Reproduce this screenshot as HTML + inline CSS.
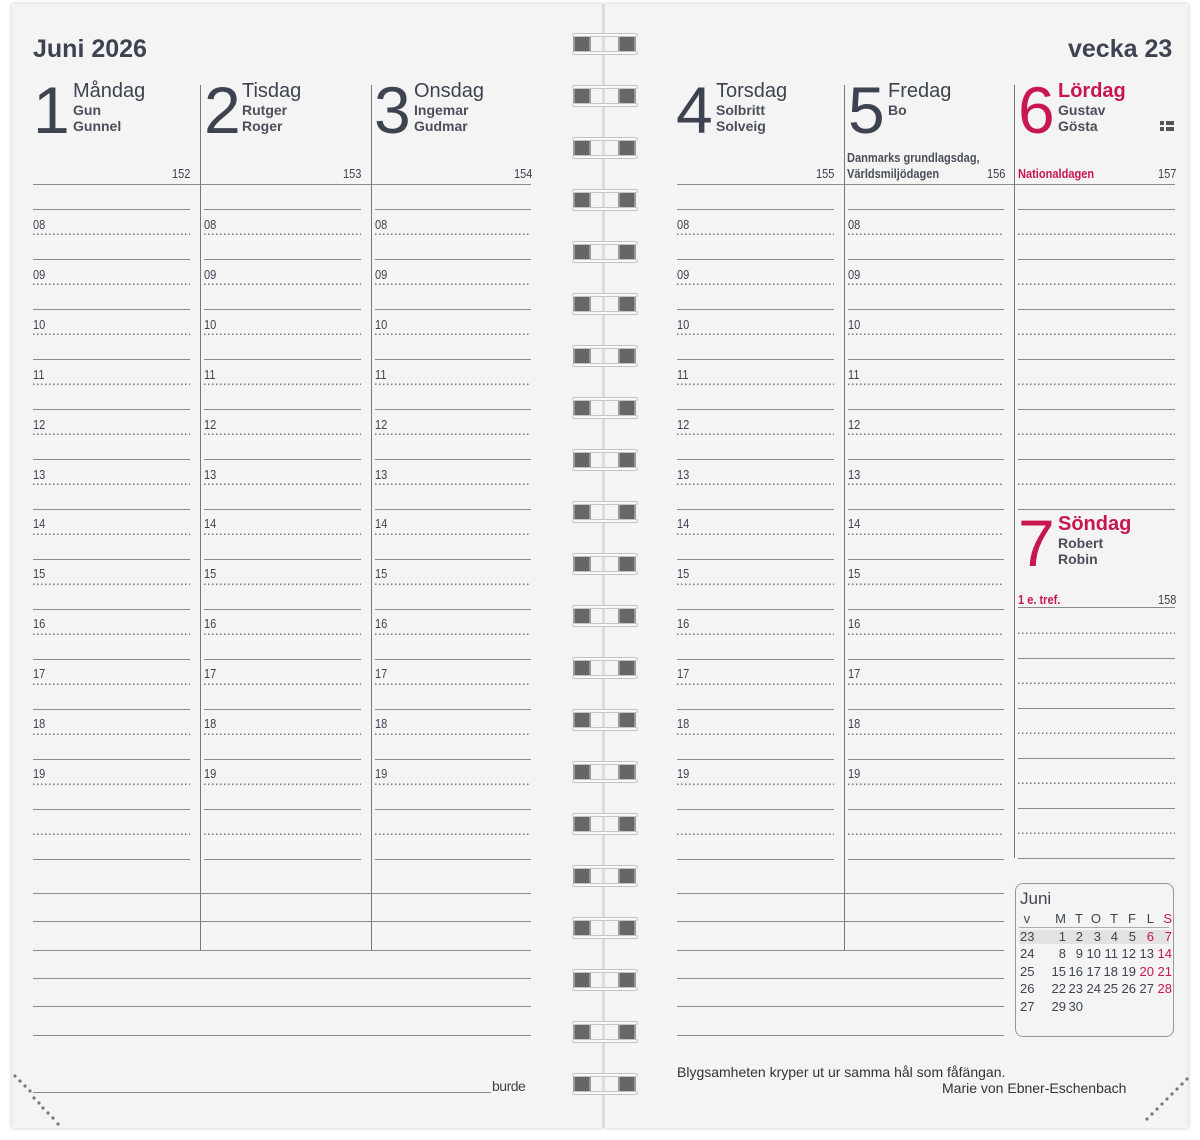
<!DOCTYPE html>
<html><head><meta charset="utf-8">
<style>
*{margin:0;padding:0;box-sizing:border-box}
body{width:1200px;height:1140px;background:#fff;position:relative;overflow:hidden;font-family:"Liberation Sans",sans-serif;color:#3d4350}
.pg{position:absolute;top:4px;height:1124px;background:#f4f4f4;box-shadow:0 0 4px rgba(0,0,0,.25)}
.a{position:absolute}
.sol{position:absolute;background:repeating-linear-gradient(to bottom,transparent 0 24px,#8a8a8a 24px 25px,transparent 25px 50px)}
.dot{position:absolute;background:repeating-linear-gradient(to right,#777 0 1.4px,transparent 1.4px 4px);-webkit-mask-image:repeating-linear-gradient(to bottom,transparent 0 48.6px,#000 48.6px 50px);mask-image:repeating-linear-gradient(to bottom,transparent 0 48.6px,#000 48.6px 50px)}
.hl{position:absolute;height:1px;background:#8a8a8a}
.vl{position:absolute;width:1px;background:#777}
.n{position:absolute;font-size:66px;line-height:66px;top:77px;letter-spacing:-2px}
.dn{position:absolute;font-size:20px;top:80px;line-height:22px}
.nm{position:absolute;font-size:14px;line-height:16px;font-weight:bold;color:#4a4f5a}
.cn{font-family:"Liberation Sans Narrow","Liberation Sans",sans-serif;font-size:13px;position:absolute;transform:scaleX(.85);transform-origin:left top;white-space:nowrap}
.r{transform-origin:right top}
.hr{position:absolute;font-family:"Liberation Sans Narrow","Liberation Sans",sans-serif;font-size:13px;color:#3d4350;transform:scaleX(.85);transform-origin:left top}
.red{color:#c8174f}
.ring{position:absolute;left:572px;width:66px;height:24px}
.ring .d{position:absolute;top:2px;width:18px;height:20px;background:#666;border:2px solid #999}
.ring .w{position:absolute;left:0;width:66px;height:4px;background:#fafafa;border:1px solid #c4c4c4;border-radius:2px}
.mc{position:absolute;font-size:13px;line-height:13px;text-align:right;width:20px}
</style></head><body>
<div class="pg" style="left:12px;width:590px"></div>
<div class="pg" style="left:605px;width:583px"></div>
<div class="a" style="left:602px;top:4px;width:3px;height:1124px;background:#ddd"></div>

<div class="a" style="left:33px;top:35px;font-size:25px;font-weight:bold">Juni 2026</div>
<div class="a" style="left:1068px;top:35px;font-size:25px;font-weight:bold">vecka 23</div>

<div class="n" style="left:33px">1</div><div class="dn" style="left:73px">Måndag</div>
<div class="nm" style="left:73px;top:102px">Gun<br>Gunnel</div>
<div class="n" style="left:204px">2</div><div class="dn" style="left:242px">Tisdag</div>
<div class="nm" style="left:242px;top:102px">Rutger<br>Roger</div>
<div class="n" style="left:374px">3</div><div class="dn" style="left:414px">Onsdag</div>
<div class="nm" style="left:414px;top:102px">Ingemar<br>Gudmar</div>
<div class="n" style="left:676px">4</div><div class="dn" style="left:716px">Torsdag</div>
<div class="nm" style="left:716px;top:102px">Solbritt<br>Solveig</div>
<div class="n" style="left:848px">5</div><div class="dn" style="left:888px">Fredag</div>
<div class="nm" style="left:888px;top:102px">Bo</div>
<div class="n red" style="left:1018px">6</div><div class="dn red" style="left:1058px;font-weight:bold">Lördag</div>
<div class="nm" style="left:1058px;top:102px">Gustav<br>Gösta</div>
<div class="a" style="left:1160px;top:121px;width:4px;height:4px;background:#555"></div>
<div class="a" style="left:1166px;top:121px;width:8px;height:4px;background:#555"></div>
<div class="a" style="left:1160px;top:127px;width:4px;height:4px;background:#555"></div>
<div class="a" style="left:1166px;top:127px;width:8px;height:4px;background:#555"></div>

<div class="cn" style="left:172px;top:166px">152</div>
<div class="cn" style="left:343px;top:166px">153</div>
<div class="cn" style="left:514px;top:166px">154</div>
<div class="cn" style="left:816px;top:166px">155</div>
<div class="cn" style="left:987px;top:166px">156</div>
<div class="cn" style="left:1158px;top:166px">157</div>
<div class="cn" style="left:847px;top:150px;line-height:16px;font-weight:bold;color:#4a4f5a">Danmarks grundlagsdag,<br>Världsmiljödagen</div>
<div class="cn red" style="left:1018px;top:166px;font-weight:bold">Nationaldagen</div>

<div class="hl" style="left:33px;top:184px;width:498px"></div>
<div class="hl" style="left:677px;top:184px;width:498px"></div>

<div class="vl" style="left:200px;top:85px;height:865px"></div>
<div class="vl" style="left:371px;top:85px;height:865px"></div>
<div class="vl" style="left:844px;top:85px;height:865px"></div>
<div class="vl" style="left:1014px;top:85px;height:773px"></div>

<div class="sol" style="left:33px;top:185px;width:157px;height:676px"></div>
<div class="sol" style="left:204px;top:185px;width:157px;height:676px"></div>
<div class="sol" style="left:375px;top:185px;width:156px;height:676px"></div>
<div class="sol" style="left:677px;top:185px;width:157px;height:676px"></div>
<div class="sol" style="left:848px;top:185px;width:156px;height:676px"></div>
<div class="dot" style="left:33px;top:185px;width:157px;height:651px"></div>
<div class="dot" style="left:204px;top:185px;width:157px;height:651px"></div>
<div class="dot" style="left:375px;top:185px;width:156px;height:651px"></div>
<div class="dot" style="left:677px;top:185px;width:157px;height:651px"></div>
<div class="dot" style="left:848px;top:185px;width:156px;height:651px"></div>

<div class="sol" style="left:1018px;top:185px;width:157px;height:326px"></div>
<div class="dot" style="left:1018px;top:185px;width:157px;height:301px"></div>
<div class="n red" style="left:1018px;top:510px">7</div>
<div class="dn red" style="left:1058px;top:513px;font-weight:bold">Söndag</div>
<div class="nm" style="left:1058px;top:535px">Robert<br>Robin</div>
<div class="cn red" style="left:1018px;top:592px;font-weight:bold">1 e. tref.</div>
<div class="cn" style="left:1158px;top:592px">158</div>
<div class="hl" style="left:1018px;top:607px;width:157px"></div>
<div class="sol" style="left:1018px;top:634px;width:157px;height:226px"></div>
<div class="dot" style="left:1018px;top:584px;width:157px;height:251px"></div>

<div class="hl" style="left:33px;top:893px;width:498px"></div>
<div class="hl" style="left:33px;top:921px;width:498px"></div>
<div class="hl" style="left:33px;top:950px;width:498px"></div>
<div class="hl" style="left:33px;top:978px;width:498px"></div>
<div class="hl" style="left:33px;top:1006px;width:498px"></div>
<div class="hl" style="left:33px;top:1035px;width:498px"></div>
<div class="hl" style="left:33px;top:1092px;width:458px"></div>
<div class="a" style="left:492px;top:1078px;font-size:14px;color:#444;letter-spacing:-0.5px">burde</div>
<div class="hl" style="left:677px;top:893px;width:327px"></div>
<div class="hl" style="left:677px;top:921px;width:327px"></div>
<div class="hl" style="left:677px;top:950px;width:327px"></div>
<div class="hl" style="left:677px;top:978px;width:327px"></div>
<div class="hl" style="left:677px;top:1006px;width:327px"></div>
<div class="hl" style="left:677px;top:1035px;width:327px"></div>

<div class="hr" style="left:33px;top:200px;line-height:49.9px">08<br>09<br>10<br>11<br>12<br>13<br>14<br>15<br>16<br>17<br>18<br>19</div>
<div class="hr" style="left:204px;top:200px;line-height:49.9px">08<br>09<br>10<br>11<br>12<br>13<br>14<br>15<br>16<br>17<br>18<br>19</div>
<div class="hr" style="left:375px;top:200px;line-height:49.9px">08<br>09<br>10<br>11<br>12<br>13<br>14<br>15<br>16<br>17<br>18<br>19</div>
<div class="hr" style="left:677px;top:200px;line-height:49.9px">08<br>09<br>10<br>11<br>12<br>13<br>14<br>15<br>16<br>17<br>18<br>19</div>
<div class="hr" style="left:848px;top:200px;line-height:49.9px">08<br>09<br>10<br>11<br>12<br>13<br>14<br>15<br>16<br>17<br>18<br>19</div>

<div class="a" style="left:1015px;top:883px;width:159px;height:154px;border:1px solid #999;border-radius:8px"></div>
<div class="a" style="left:1020px;top:889px;font-size:17px">Juni</div>
<div class="a" style="left:1019px;top:930px;width:150px;height:14px;background:#e2e2e2"></div>
<div class="a" style="left:1019px;top:927px;width:150px;height:1px;background:#aaa"></div>
<div class="a" style="left:1020px;top:910px;font-size:13px;line-height:17.6px;width:25px">&nbsp;v<br>23<br>24<br>25<br>26<br>27</div>
<div class="mc" style="left:1046px;top:910px;line-height:17.6px">M<br>1<br>8<br>15<br>22<br>29</div>
<div class="mc" style="left:1063px;top:910px;line-height:17.6px">T<br>2<br>9<br>16<br>23<br>30</div>
<div class="mc" style="left:1081px;top:910px;line-height:17.6px">O<br>3<br>10<br>17<br>24</div>
<div class="mc" style="left:1098px;top:910px;line-height:17.6px">T<br>4<br>11<br>18<br>25</div>
<div class="mc" style="left:1116px;top:910px;line-height:17.6px">F<br>5<br>12<br>19<br>26</div>
<div class="mc" style="left:1134px;top:910px;line-height:17.6px">L<br><span class="red">6</span><br>13<br><span class="red">20</span><br>27</div>
<div class="mc red" style="left:1152px;top:910px;line-height:17.6px">S<br>7<br>14<br>21<br>28</div>

<div class="a" style="left:677px;top:1064px;font-size:14px;color:#333">Blygsamheten kryper ut ur samma hål som fåfängan.</div>
<div class="a" style="left:942px;top:1080px;font-size:14px;color:#333">Marie von Ebner-Eschenbach</div>

<svg class="a" style="left:0;top:0" width="1200" height="1140">
<g fill="#777">
<circle cx="15" cy="1076" r="1.6"/><circle cx="20" cy="1081" r="1.6"/><circle cx="25" cy="1086" r="1.6"/><circle cx="30" cy="1091" r="1.6"/><circle cx="34" cy="1098" r="1.6"/><circle cx="39" cy="1103" r="1.6"/><circle cx="43" cy="1108" r="1.6"/><circle cx="48" cy="1113" r="1.6"/><circle cx="53" cy="1118" r="1.6"/><circle cx="58" cy="1124" r="1.6"/>
<circle cx="1147" cy="1119" r="1.6"/><circle cx="1152" cy="1114" r="1.6"/><circle cx="1157" cy="1109" r="1.6"/><circle cx="1162" cy="1104" r="1.6"/><circle cx="1167" cy="1099" r="1.6"/><circle cx="1172" cy="1094" r="1.6"/><circle cx="1177" cy="1089" r="1.6"/><circle cx="1182" cy="1084" r="1.6"/><circle cx="1187" cy="1079" r="1.6"/>
</g></svg>

<div class="ring" style="top:32px"><div class="d" style="left:1px"></div><div class="d" style="left:46px"></div><div class="w" style="top:1px"></div><div class="w" style="top:19px"></div></div>
<div class="ring" style="top:84px"><div class="d" style="left:1px"></div><div class="d" style="left:46px"></div><div class="w" style="top:1px"></div><div class="w" style="top:19px"></div></div>
<div class="ring" style="top:136px"><div class="d" style="left:1px"></div><div class="d" style="left:46px"></div><div class="w" style="top:1px"></div><div class="w" style="top:19px"></div></div>
<div class="ring" style="top:188px"><div class="d" style="left:1px"></div><div class="d" style="left:46px"></div><div class="w" style="top:1px"></div><div class="w" style="top:19px"></div></div>
<div class="ring" style="top:240px"><div class="d" style="left:1px"></div><div class="d" style="left:46px"></div><div class="w" style="top:1px"></div><div class="w" style="top:19px"></div></div>
<div class="ring" style="top:292px"><div class="d" style="left:1px"></div><div class="d" style="left:46px"></div><div class="w" style="top:1px"></div><div class="w" style="top:19px"></div></div>
<div class="ring" style="top:344px"><div class="d" style="left:1px"></div><div class="d" style="left:46px"></div><div class="w" style="top:1px"></div><div class="w" style="top:19px"></div></div>
<div class="ring" style="top:396px"><div class="d" style="left:1px"></div><div class="d" style="left:46px"></div><div class="w" style="top:1px"></div><div class="w" style="top:19px"></div></div>
<div class="ring" style="top:448px"><div class="d" style="left:1px"></div><div class="d" style="left:46px"></div><div class="w" style="top:1px"></div><div class="w" style="top:19px"></div></div>
<div class="ring" style="top:500px"><div class="d" style="left:1px"></div><div class="d" style="left:46px"></div><div class="w" style="top:1px"></div><div class="w" style="top:19px"></div></div>
<div class="ring" style="top:552px"><div class="d" style="left:1px"></div><div class="d" style="left:46px"></div><div class="w" style="top:1px"></div><div class="w" style="top:19px"></div></div>
<div class="ring" style="top:604px"><div class="d" style="left:1px"></div><div class="d" style="left:46px"></div><div class="w" style="top:1px"></div><div class="w" style="top:19px"></div></div>
<div class="ring" style="top:656px"><div class="d" style="left:1px"></div><div class="d" style="left:46px"></div><div class="w" style="top:1px"></div><div class="w" style="top:19px"></div></div>
<div class="ring" style="top:708px"><div class="d" style="left:1px"></div><div class="d" style="left:46px"></div><div class="w" style="top:1px"></div><div class="w" style="top:19px"></div></div>
<div class="ring" style="top:760px"><div class="d" style="left:1px"></div><div class="d" style="left:46px"></div><div class="w" style="top:1px"></div><div class="w" style="top:19px"></div></div>
<div class="ring" style="top:812px"><div class="d" style="left:1px"></div><div class="d" style="left:46px"></div><div class="w" style="top:1px"></div><div class="w" style="top:19px"></div></div>
<div class="ring" style="top:864px"><div class="d" style="left:1px"></div><div class="d" style="left:46px"></div><div class="w" style="top:1px"></div><div class="w" style="top:19px"></div></div>
<div class="ring" style="top:916px"><div class="d" style="left:1px"></div><div class="d" style="left:46px"></div><div class="w" style="top:1px"></div><div class="w" style="top:19px"></div></div>
<div class="ring" style="top:968px"><div class="d" style="left:1px"></div><div class="d" style="left:46px"></div><div class="w" style="top:1px"></div><div class="w" style="top:19px"></div></div>
<div class="ring" style="top:1020px"><div class="d" style="left:1px"></div><div class="d" style="left:46px"></div><div class="w" style="top:1px"></div><div class="w" style="top:19px"></div></div>
<div class="ring" style="top:1072px"><div class="d" style="left:1px"></div><div class="d" style="left:46px"></div><div class="w" style="top:1px"></div><div class="w" style="top:19px"></div></div>
</body></html>
